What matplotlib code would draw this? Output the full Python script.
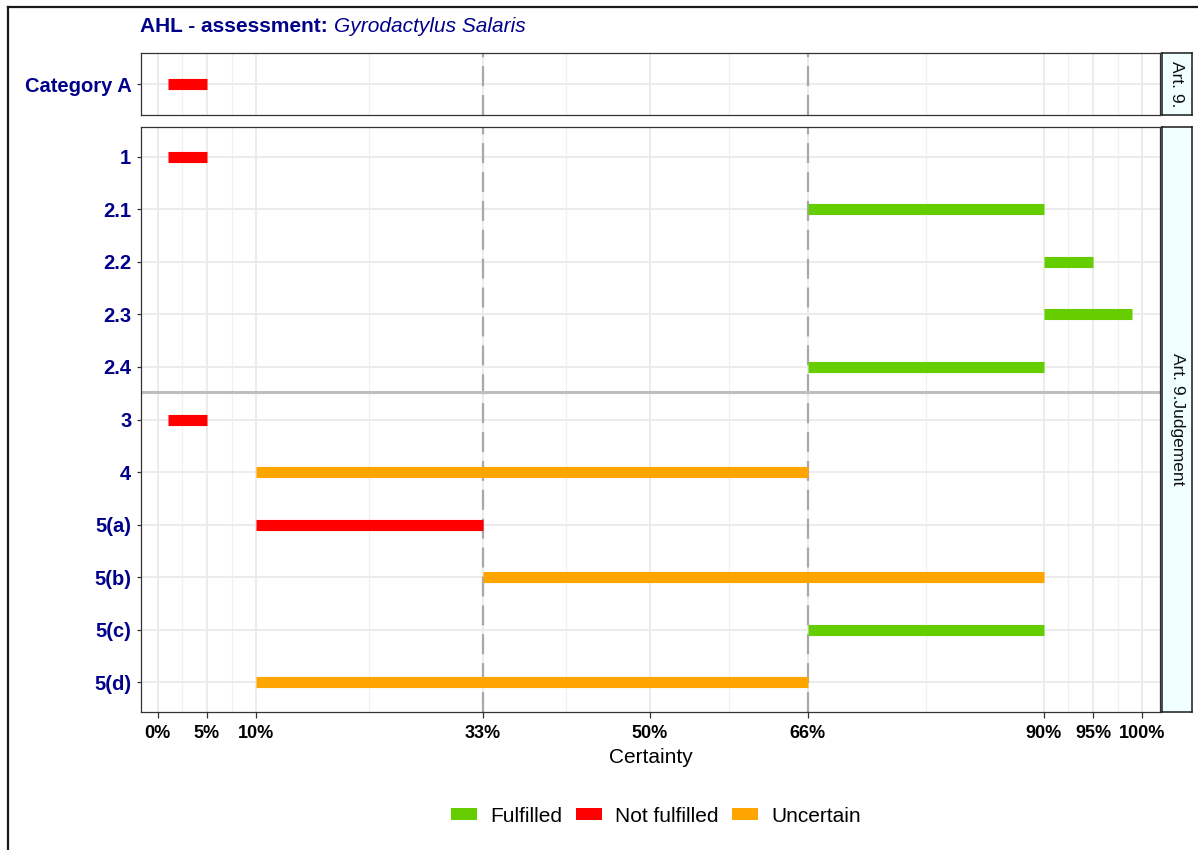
import matplotlib
matplotlib.use("Agg")
import matplotlib.pyplot as plt
from matplotlib.patches import Patch
from matplotlib.lines import Line2D

plt.rcParams['font.family'] = ['Liberation Sans', 'DejaVu Sans']

# data
top_labels = ['Category A']
top_start = [1]
top_end = [5]
top_status = ['Not fulfilled']

labels = ['1', '2.1', '2.2', '2.3', '2.4', '3', '4', '5(a)', '5(b)', '5(c)', '5(d)']
start = [1, 66, 90, 90, 66, 1, 10, 10, 33, 66, 10]
end = [5, 90, 95, 99, 90, 5, 66, 33, 90, 90, 66]
status = ['Not fulfilled', 'Fulfilled', 'Fulfilled', 'Fulfilled', 'Fulfilled',
          'Not fulfilled', 'Uncertain', 'Not fulfilled', 'Uncertain', 'Fulfilled', 'Uncertain']

x_breaks = [0, 5, 10, 33, 50, 66, 90, 95, 100]
x_minor = [2.5, 7.5, 21.5, 41.5, 58, 78, 92.5, 97.5]
cutoffs = [33, 66]
colors = {'Fulfilled': '#66CD00', 'Not fulfilled': '#FF0000', 'Uncertain': '#FFA500'}
navy = '#00008B'

W, H = 1198, 850
fig = plt.figure(figsize=(W / 100, H / 100), dpi=100)

def fx(px):
    return px / W

def fy(py):
    return 1 - py / H

left, right = 141, 1160
ax_top = fig.add_axes([fx(left), fy(115), fx(right - left), 62 / H])
ax_bot = fig.add_axes([fx(left), fy(712), fx(right - left), 585 / H])

def style(ax, labs, s, e, st, show_x):
    n = len(labs)
    ys = list(range(n))
    for y, a, b, c in zip(ys, s, e, st):
        ax.hlines(y, a, b, color=colors[c], lw=8, capstyle='butt', zorder=3)
    ax.set_xlim(-1.7, 101.8)
    ax.set_ylim(n - 1 + 0.57, -0.57)
    ax.set_yticks(ys)
    ax.set_yticklabels(labs, fontsize=14.5, fontweight='bold', color=navy)
    ax.set_xticks(x_breaks)
    ax.set_xticks(x_minor, minor=True)
    ax.grid(True, which='major', color='#EBEBEB', lw=1.3, zorder=0)
    ax.grid(True, which='minor', axis='x', color='#F0F0F0', lw=0.9, zorder=0)
    ax.set_axisbelow(True)
    for v in cutoffs:
        ax.axvline(v, color='#A8A8A8', lw=1.6, ls=(0, (9, 4)), zorder=2)
    for sp in ax.spines.values():
        sp.set_color('#333333')
        sp.set_linewidth(0.9)
    ax.tick_params(axis='y', length=3, width=0.9, color='#333333', pad=4)
    ax.tick_params(axis='x', which='minor', length=0)
    if show_x:
        ax.set_xticklabels([f'{v}%' for v in x_breaks], fontsize=13, fontweight='bold')
        ax.tick_params(axis='x', which='major', length=4, width=0.9, color='#333333', pad=5)
        ax.set_xlabel('Certainty', fontsize=15, labelpad=5)
    else:
        ax.tick_params(axis='x', which='major', length=0, labelbottom=False)

style(ax_top, top_labels, top_start, top_end, top_status, False)
style(ax_bot, labels, start, end, status, True)
ax_bot.axhline(4.48, color='#BEBEBE', lw=2.2, zorder=2)

# facet strips
def strip(y0, y1, text):
    sa = fig.add_axes([fx(1162), fy(y1), fx(30), (y1 - y0) / H])
    sa.set_facecolor('#F0FFFF')
    sa.set_xticks([])
    sa.set_yticks([])
    for sp in sa.spines.values():
        sp.set_color('#1A1A1A')
        sp.set_linewidth(1.1)
    sa.text(0.5, 0.5, text, rotation=-90, ha='center', va='center',
            fontsize=12.5, transform=sa.transAxes, color='#111111')

strip(53, 115, 'Art. 9.')
strip(127, 712, 'Art. 9.Judgement')

# title
renderer = fig.canvas.get_renderer()
t1 = fig.text(fx(140), fy(27), 'AHL - assessment: ', fontsize=15, fontweight='bold',
              color=navy, va='center', ha='left')
bb = t1.get_window_extent(renderer)
fig.text(bb.x1 / W, fy(27), 'Gyrodactylus Salaris', fontsize=15, fontstyle='italic',
         color=navy, va='center', ha='left')

# legend
handles = [Patch(facecolor=colors[k], edgecolor='none', label=k) for k in colors]
fig.legend(handles=handles, loc='center', bbox_to_anchor=(fx(656), fy(816)), ncol=3,
           frameon=False, fontsize=15, handlelength=1.25, handleheight=0.5,
           handletextpad=0.62, columnspacing=0.67)

# outer border (left and top visible)
fig.add_artist(Line2D([fx(8), fx(8)], [0, fy(7)], color='#1A1A1A', lw=1.6))
fig.add_artist(Line2D([fx(8), 1], [fy(7), fy(7)], color='#1A1A1A', lw=1.6))

fig.savefig('out.png', dpi=100)
